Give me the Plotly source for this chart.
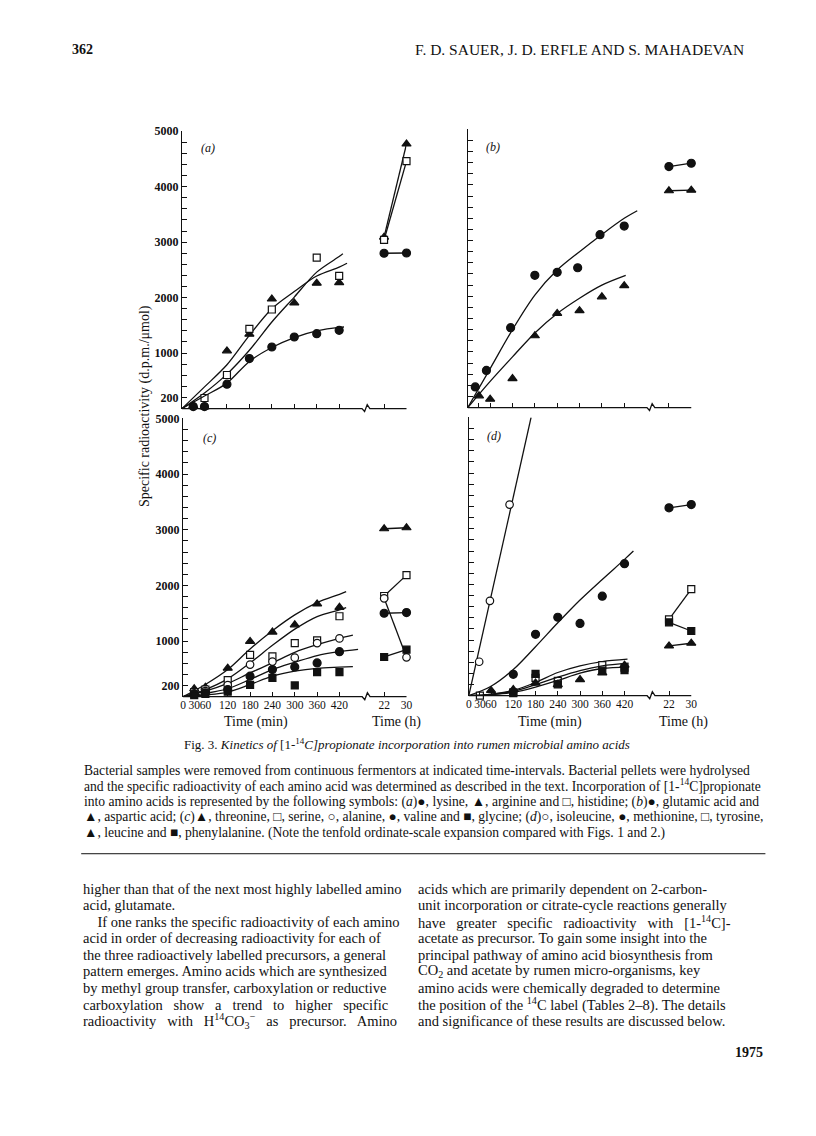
import plotly.graph_objects as go

# the page body keeps its default 8 px margin, so the figure is drawn 8 px smaller
# and every page position below is shifted by that margin
OFF = 8
W, H = 816 - 2 * OFF, 1136 - 2 * OFF

# ---- data (specific radioactivity, d.p.m./umol) ----
# sampling times in min; the 22 h and 30 h samples are put at 540 and 600 on the same axis
t = [30, 60, 120, 180, 240, 300, 360, 420]
t_long = [540, 600]

# (a) lysine (filled circle), arginine (triangle), histidine (open square)
a_lys = [35, 35, 440, 900, 1110, 1290, 1350, 1410]
a_arg = [45, 30, 1040, 1340, 1975, 1905, 2260, 2270]
a_his_t = [60, 120, 180, 240, 360, 420]
a_his = [190, 605, 1435, 1786, 2720, 2393]
a_lys_long = [2800, 2805]
a_arg_long = [3090, 4770]
a_his_long = [3040, 4460]
a_lys_fit_t = [0, 60, 120, 180, 240, 300, 360, 420, 433]
a_lys_fit = [0, 225, 458, 850, 1100, 1280, 1400, 1465, 1470]
a_arg_fit_t = [0, 60, 120, 180, 240, 300, 360, 420, 441]
a_arg_fit = [0, 390, 790, 1320, 1800, 2110, 2390, 2550, 2620]
a_his_fit_t = [0, 60, 120, 180, 240, 300, 360, 420, 430]
a_his_fit = [0, 280, 620, 1050, 1560, 2010, 2460, 2740, 2790]

# (b) glutamic acid (filled circle), aspartic acid (triangle)
b_glu_t = [20, 50, 115, 180, 240, 295, 355, 420]
b_glu = [370, 667, 1435, 2375, 2430, 2512, 3107, 3260]
b_asp = [210, 150, 520, 1290, 1690, 1740, 1990, 2190]
b_glu_long = [4330, 4390]
b_asp_long = [3895, 3905]
b_glu_fit_t = [0, 60, 120, 180, 240, 300, 360, 420, 455]
b_glu_fit = [0, 700, 1400, 2020, 2470, 2800, 3110, 3400, 3536]
b_asp_fit_t = [0, 60, 120, 180, 240, 300, 360, 424]
b_asp_fit = [0, 470, 910, 1340, 1690, 1965, 2200, 2375]

# (c) threonine (triangle), serine (open square), alanine (open circle),
#     valine (filled circle), glycine (filled square)
c_thr = [143, 170, 512, 994, 1161, 1292, 1667, 1607]
c_ser = [83, 130, 298, 750, 726, 964, 1012, 1446]
c_ala = [60, 101, 208, 577, 631, 702, 964, 1048]
c_val = [42, 71, 130, 369, 488, 536, 607, 810]
c_gly = [30, 50, 90, 214, 339, 202, 440, 440]
c_thr_long = [3018, 3036]
c_ser_long = [1810, 2185]
c_ala_long = [1768, 708]
c_val_long = [1500, 1512]
c_gly_long = [714, 845]
c_thr_fit_t = [0, 60, 120, 180, 240, 300, 360, 420, 438]
c_thr_fit = [0, 220, 488, 857, 1185, 1470, 1690, 1840, 1887]
c_ser_fit_t = [0, 60, 120, 180, 240, 300, 360, 420, 438]
c_ser_fit = [0, 130, 321, 607, 923, 1214, 1440, 1560, 1600]
c_ala_fit_t = [0, 60, 120, 180, 240, 300, 360, 420, 456]
c_ala_fit = [0, 100, 238, 428, 607, 798, 935, 1050, 1105]
c_val_fit_t = [0, 60, 120, 180, 240, 300, 360, 420, 470]
c_val_fit = [0, 60, 143, 310, 488, 619, 740, 810, 850]
c_gly_fit_t = [0, 60, 120, 180, 240, 300, 360, 420, 456]
c_gly_fit = [0, 30, 83, 220, 369, 458, 510, 530, 540]

# (d) isoleucine (open circle), methionine (filled circle), tyrosine (open square),
#     leucine (triangle), phenylalanine (filled square)
d_ile_t = [28, 57, 110]
d_ile = [610, 1705, 3435]
d_ile_fit_t = [0, 168]
d_ile_fit = [0, 5000]
d_met_t = [120, 180, 240, 300, 360, 420]
d_met = [385, 1103, 1410, 1300, 1789, 2373]
d_met_fit_t = [0, 60, 120, 180, 240, 300, 360, 420, 444]
d_met_fit = [0, 170, 470, 880, 1310, 1720, 2090, 2450, 2600]
d_tyr_t = [30, 120, 180, 240, 360, 420]
d_tyr = [0, 45, 320, 265, 550, 505]
d_leu_t = [60, 120, 180, 240, 300, 360, 420]
d_leu = [95, 110, 227, 200, 290, 410, 550]
d_phe_t = [120, 180, 240, 360, 420]
d_phe = [60, 394, 205, 450, 460]
d_met_long = [3376, 3435]
d_tyr_long = [1372, 1914]
d_phe_long = [1318, 1163]
d_leu_long = [894, 943]
d_fit_t1 = [0, 60, 120, 180, 240, 300, 360, 428]
d_fit_1 = [0, 30, 95, 238, 417, 537, 614, 656]
d_fit_t2 = [0, 60, 120, 180, 240, 300, 360, 431]
d_fit_2 = [0, 25, 78, 197, 334, 453, 537, 584]
d_fit_t3 = [0, 60, 120, 180, 240, 300, 360, 432]
d_fit_3 = [0, 20, 60, 155, 274, 405, 489, 513]

# axis ticks
x_tickvals = [0, 30, 60, 120, 180, 240, 300, 360, 420, 540, 600]
x_ticktext = ['0', '30', '60', '120', '180', '240', '300', '360', '420', '22', '30']
y_tickvals = [200 * i for i in range(26)]
y_labelled = [200, 1000, 2000, 3000, 4000, 5000]

SERIF = 'Liberation Serif, Times New Roman, serif'
INK = '#111111'

# marker styles: (symbol, size, fill)
STY = {
    'dot': ('circle', 8, INK),
    'tri': ('triangle-up', 8, INK),
    'sq': ('square', 7, 'white'),
    'ring': ('circle', 7.5, 'white'),
    'blk': ('square', 7, INK),
}


def px(x):
    return (x - OFF) / W


def py(y):
    return 1 - (y - OFF) / H


fig = go.Figure()


def series(ax, x, y, kind, fit_x=None, fit_y=None, long_y=None):
    xa, ya = ('x', 'y') if ax == 1 else ('x%d' % ax, 'y%d' % ax)
    sym, size, fill = STY[kind]
    if fit_x is not None:
        fig.add_scatter(x=fit_x, y=fit_y, xaxis=xa, yaxis=ya, mode='lines',
                        line=dict(color=INK, width=1.3, shape='spline', smoothing=0.9),
                        hoverinfo='skip')
    if long_y is not None:
        fig.add_scatter(x=t_long, y=long_y, xaxis=xa, yaxis=ya, mode='lines+markers',
                        line=dict(color=INK, width=1.3),
                        marker=dict(symbol=sym, size=size, color=fill, line=dict(color=INK, width=1.2)),
                        cliponaxis=False)
    fig.add_scatter(x=x, y=y, xaxis=xa, yaxis=ya, mode='markers',
                    marker=dict(symbol=sym, size=size, color=fill, line=dict(color=INK, width=1.2)),
                    cliponaxis=False)


# (a)
series(1, t, a_arg, 'tri', a_arg_fit_t, a_arg_fit, a_arg_long)
series(1, a_his_t, a_his, 'sq', a_his_fit_t, a_his_fit, a_his_long)
series(1, t, a_lys, 'dot', a_lys_fit_t, a_lys_fit, a_lys_long)
# (b)
series(2, b_glu_t, b_glu, 'dot', b_glu_fit_t, b_glu_fit, b_glu_long)
series(2, t, b_asp, 'tri', b_asp_fit_t, b_asp_fit, b_asp_long)
# (c)
series(3, t, c_thr, 'tri', c_thr_fit_t, c_thr_fit, c_thr_long)
series(3, t, c_ser, 'sq', c_ser_fit_t, c_ser_fit, c_ser_long)
series(3, t, c_ala, 'ring', c_ala_fit_t, c_ala_fit, c_ala_long)
series(3, t, c_val, 'dot', c_val_fit_t, c_val_fit, c_val_long)
series(3, t, c_gly, 'blk', c_gly_fit_t, c_gly_fit, c_gly_long)
# (d)
series(4, d_ile_t, d_ile, 'ring', d_ile_fit_t, d_ile_fit)
series(4, d_met_t, d_met, 'dot', d_met_fit_t, d_met_fit, d_met_long)
series(4, d_tyr_t, d_tyr, 'sq', d_fit_t1, d_fit_1, d_tyr_long)
series(4, d_leu_t, d_leu, 'tri', d_fit_t2, d_fit_2, d_leu_long)
series(4, d_phe_t, d_phe, 'blk', d_fit_t3, d_fit_3, d_phe_long)

# panel boxes in page pixels: left, right, top, bottom
panels = {1: (181, 408, 125, 404), 2: (470, 696, 123, 403),
          3: (182, 408, 414, 694), 4: (471, 696, 413, 693)}

layout = dict(width=W, height=H, margin=dict(l=0, r=0, t=0, b=0),
              paper_bgcolor='white', plot_bgcolor='rgba(0,0,0,0)', showlegend=False,
              font=dict(family=SERIF, color=INK))
shapes = []
for k, (l, r, tp, bt) in panels.items():
    sx = '' if k == 1 else str(k)
    left_col = k in (1, 3)
    bottom_row = k in (3, 4)
    layout['xaxis' + sx] = dict(
        domain=[px(l), px(r)], anchor='y' + sx, range=[0, 600], showline=False,
        showgrid=False, zeroline=False, ticks='inside', ticklen=5, tickwidth=1,
        tickcolor=INK, tickvals=x_tickvals, ticktext=x_ticktext, tickangle=0,
        showticklabels=bottom_row, tickfont=dict(family=SERIF, size=11.5, color=INK))
    layout['yaxis' + sx] = dict(
        domain=[py(bt), py(tp)], anchor='x' + sx, range=[0, 5000],
        showline=True, linecolor=INK, linewidth=1.3, showgrid=False, zeroline=False,
        ticks='inside', ticklen=5, tickwidth=1, tickcolor=INK,
        tickvals=y_tickvals,
        ticktext=[str(v) if v in y_labelled else '' for v in y_tickvals],
        showticklabels=left_col,
        tickfont=dict(family=SERIF, size=12, color=INK, weight='bold'))
    # x axis drawn by hand (domain coordinates) so it can carry the break mark
    # between 420 min and 22 h
    d = 1.0 / (bt - tp)
    brk = [481 / 600, 488 / 600, 495 / 600, 502 / 600]
    path = 'M 0,0 L %.4f,0 L %.4f,%.4f L %.4f,%.4f L %.4f,0 L 1,0' % (
        brk[0], brk[1], -3 * d, brk[2], 4 * d, brk[3])
    shapes.append(dict(type='path', xref='x%s domain' % sx, yref='y%s domain' % sx,
                       path=path, line=dict(color=INK, width=1.3)))

# horizontal rule above the body text
shapes.append(dict(type='line', xref='paper', yref='paper', x0=px(79), x1=px(771),
                   y0=py(852), y1=py(852), line=dict(color=INK, width=1)))
layout['shapes'] = shapes

ann = []


def txt(s, x, y, size=13, xanchor='left', **kw):
    ann.append(dict(text=s, x=px(x), y=py(y), xref='paper', yref='paper',
                    xanchor=xanchor, yanchor='middle', showarrow=False,
                    font=dict(family=SERIF, size=size, color=INK), **kw))


# page header
txt('<b>362</b>', 68, 43, 14)
txt('F. D. SAUER, J. D. ERFLE AND S. MAHADEVAN', 751, 43, 15.5, xanchor='right')

# panel letters
txt('<i>(a)</i>', 207, 142, 12, xanchor='center')
txt('<i>(b)</i>', 495, 141, 12, xanchor='center')
txt('<i>(c)</i>', 209, 434, 12, xanchor='center')
txt('<i>(d)</i>', 497, 432, 12, xanchor='center')

# axis titles
txt('Specific radioactivity (d.p.m./\u03bcmol)', 143, 401, 14, xanchor='center', textangle=-90)
txt('Time (min)', 256, 719, 14, xanchor='center')
txt('Time (h)', 398, 719, 14, xanchor='center')
txt('Time (min)', 553, 719, 14, xanchor='center')
txt('Time (h)', 688, 719, 14, xanchor='center')

# figure caption
txt('Fig. 3. <i>Kinetics of</i> [1-<sup>14</sup><i>C]propionate incorporation into rumen microbial amino acids</i>',
    408, 742, 13, xanchor='center')
legend_lines = [
    'Bacterial samples were removed from continuous fermentors at indicated time-intervals. Bacterial pellets were hydrolysed',
    'and the specific radioactivity of each amino acid was determined as described in the text. Incorporation of [1-<sup>14</sup>C]propionate',
    'into amino acids is represented by the following symbols: (<i>a</i>)\u25cf, lysine, \u25b2, arginine and \u25a1, histidine; (<i>b</i>)\u25cf, glutamic acid and',
    '\u25b2, aspartic acid; (<i>c</i>)\u25b2, threonine, \u25a1, serine, \u25cb, alanine, \u25cf, valine and \u25a0, glycine; (<i>d</i>)\u25cb, isoleucine, \u25cf, methionine, \u25a1, tyrosine,',
    '\u25b2, leucine and \u25a0, phenylalanine. (Note the tenfold ordinate-scale expansion compared with Figs. 1 and 2.)',
]
for i, s in enumerate(legend_lines):
    txt(s, 80, 768 + 15.8 * i, 13.6)

# body text, two columns
left_col_lines = [
    'higher than that of the next most highly labelled amino',
    'acid, glutamate.',
    '\u2003If one ranks the specific radioactivity of each amino',
    'acid in order of decreasing radioactivity for each of',
    'the three radioactively labelled precursors, a general',
    'pattern emerges. Amino acids which are synthesized',
    'by methyl group transfer, carboxylation or reductive',
    'carboxylation\u2002 show\u2002 a\u2002 trend\u2002 to\u2002 higher\u2002 specific',
    'radioactivity\u2002 with\u2002 H<sup>14</sup>CO<sub>3</sub><sup>\u2212</sup>\u2002 as\u2002 precursor.\u2002 Amino',
]
right_col_lines = [
    'acids which are primarily dependent on 2-carbon-',
    'unit incorporation or citrate-cycle reactions generally',
    'have\u2002 greater\u2002 specific\u2002 radioactivity\u2002 with\u2002 [1-<sup>14</sup>C]-',
    'acetate as precursor. To gain some insight into the',
    'principal pathway of amino acid biosynthesis from',
    'CO<sub>2</sub> and acetate by rumen micro-organisms, key',
    'amino acids were chemically degraded to determine',
    'the position of the <sup>14</sup>C label (Tables 2\u20138). The details',
    'and significance of these results are discussed below.',
]
for i, s in enumerate(left_col_lines):
    txt(s, 79, 887 + 16.7 * i, 14.5)
for i, s in enumerate(right_col_lines):
    txt(s, 418, 887 + 16.7 * i, 14.5)
txt('<b>1975</b>', 771, 1052, 14, xanchor='right')

layout['annotations'] = ann
fig.update_layout(**layout)

fig.write_html("out.html")
